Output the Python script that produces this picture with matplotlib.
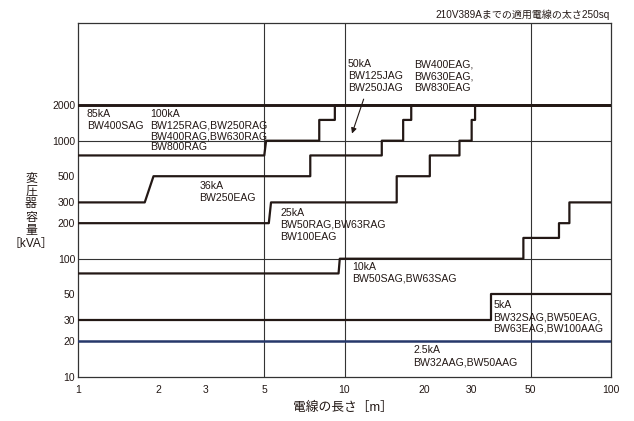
import matplotlib
matplotlib.use("Agg")
import matplotlib.pyplot as plt
from matplotlib.ticker import NullLocator

plt.rcParams["font.family"] = ["Liberation Sans", "Noto Sans CJK JP", "DejaVu Sans"]

INK = "#231815"
NAVY = "#26386a"

# step curves: levels [kVA] and the cable lengths [m] where each step up happens
# (a tuple edge means the rise is sloped between the two lengths)
lv_85 = [2000]
ed_85 = []
lv_100 = [750, 1000, 1500, 2000]
ed_100 = [(5.0, 5.08), 8.04, 9.2]
lv_36 = [300, 500, 750, 1000, 1500, 2000]
ed_36 = [(1.78, 1.92), 7.44, 13.8, 16.6, 17.8]
lv_25 = [200, 300, 500, 750, 1000, 1500, 2000]
ed_25 = [(5.2, 5.3), 15.7, 20.9, 27.0, 30.0, 30.9]
lv_10 = [75, 100, 150, 200, 300]
ed_10 = [(9.5, 9.6), 46.9, 63.8, 69.8]
lv_5 = [30, 50]
ed_5 = [35.5]
lv_2p5 = [20]
ed_2p5 = []

x_ticks = [1, 2, 3, 5, 10, 20, 30, 50, 100]
y_ticks = [10, 20, 30, 50, 100, 200, 300, 500, 1000, 2000]
x_grid = [5, 10, 50]
y_grid = [100, 1000]

labels = [
    ("85kA\nBW400SAG", 1.08, 1840),
    ("100kA\nBW125RAG,BW250RAG\nBW400RAG,BW630RAG\nBW800RAG", 1.87, 1840),
    ("50kA\nBW125JAG\nBW250JAG", 10.3, 4880),
    ("BW400EAG,\nBW630EAG,\nBW830EAG", 18.3, 4880),
    ("36kA\nBW250EAG", 2.85, 455),
    ("25kA\nBW50RAG,BW63RAG\nBW100EAG", 5.73, 267),
    ("10kA\nBW50SAG,BW63SAG", 10.7, 94.6),
    ("5kA\nBW32SAG,BW50EAG,\nBW63EAG,BW100AAG", 36.2, 44.3),
    ("2.5kA\nBW32AAG,BW50AAG", 18.1, 18.4),
]


def step_xy(levels, edges, x0=1.0, x1=100.0):
    xs, ys = [x0], [levels[0]]
    for i, e in enumerate(edges):
        a, b = e if isinstance(e, tuple) else (e, e)
        xs += [a, b]
        ys += [levels[i], levels[i + 1]]
    xs.append(x1)
    ys.append(levels[-1])
    return xs, ys


fig = plt.figure(figsize=(6.34, 4.21), dpi=100)
ax = fig.add_axes([78 / 634, 1 - 376.7 / 421, 533 / 634, 354 / 421])
ax.set_xscale("log")
ax.set_yscale("log")
ax.set_xlim(1, 100)
ax.set_ylim(10, 10000)

for v in x_grid:
    ax.axvline(v, color="#333333", lw=0.8, zorder=1)
for v in y_grid:
    ax.axhline(v, color="#333333", lw=0.8, zorder=1)

xs, ys = step_xy(lv_85, ed_85)
ax.plot(xs, ys, color=INK, lw=2.1, zorder=3)
for lv, ed in [(lv_100, ed_100), (lv_36, ed_36), (lv_25, ed_25),
               (lv_10, ed_10), (lv_5, ed_5)]:
    xs, ys = step_xy(lv, ed)
    ax.plot(xs, ys, color=INK, lw=1.6, zorder=3)
xs, ys = step_xy(lv_2p5, ed_2p5)
ax.plot(xs, ys, color=NAVY, lw=1.8, zorder=3)

for txt, x, y in labels:
    # the 100kA block sits a little tighter so the 1000 line runs under its 3rd row
    ls = 1.1 if txt.startswith("100kA") else 1.2
    ax.text(x, y, txt, fontsize=7.6, ha="left", va="top", color=INK,
            linespacing=ls, zorder=4)

ax.annotate("", xy=(10.67, 1150), xytext=(11.8, 2250),
            arrowprops=dict(arrowstyle="-|>", color=INK, lw=0.8,
                            mutation_scale=8, shrinkA=0, shrinkB=0))

ax.set_xticks(x_ticks)
ax.set_xticklabels([str(t) for t in x_ticks])
ax.set_yticks(y_ticks)
ax.set_yticklabels([str(t) for t in y_ticks])
ax.xaxis.set_minor_locator(NullLocator())
ax.yaxis.set_minor_locator(NullLocator())
ax.tick_params(axis="both", length=0, labelsize=7.5, colors=INK)
ax.tick_params(axis="x", pad=6)
ax.tick_params(axis="y", pad=2)
for sp in ax.spines.values():
    sp.set_color("#333333")
    sp.set_linewidth(0.9)

fig.text(610 / 634, 1 - 15 / 421, "210V389Aまでの適用電線の太さ250sq",
         ha="right", va="center", fontsize=7.2, color=INK)
fig.text(31 / 634, 1 - 211 / 421, "変\n圧\n器\n容\n量\n［kVA］",
         ha="center", va="center", fontsize=8.6, color=INK, linespacing=1.12)
fig.text(343 / 634, 1 - 408 / 421, "電線の長さ［m］",
         ha="center", va="center", fontsize=9.2, color=INK)

fig.savefig("out.png", dpi=100)
